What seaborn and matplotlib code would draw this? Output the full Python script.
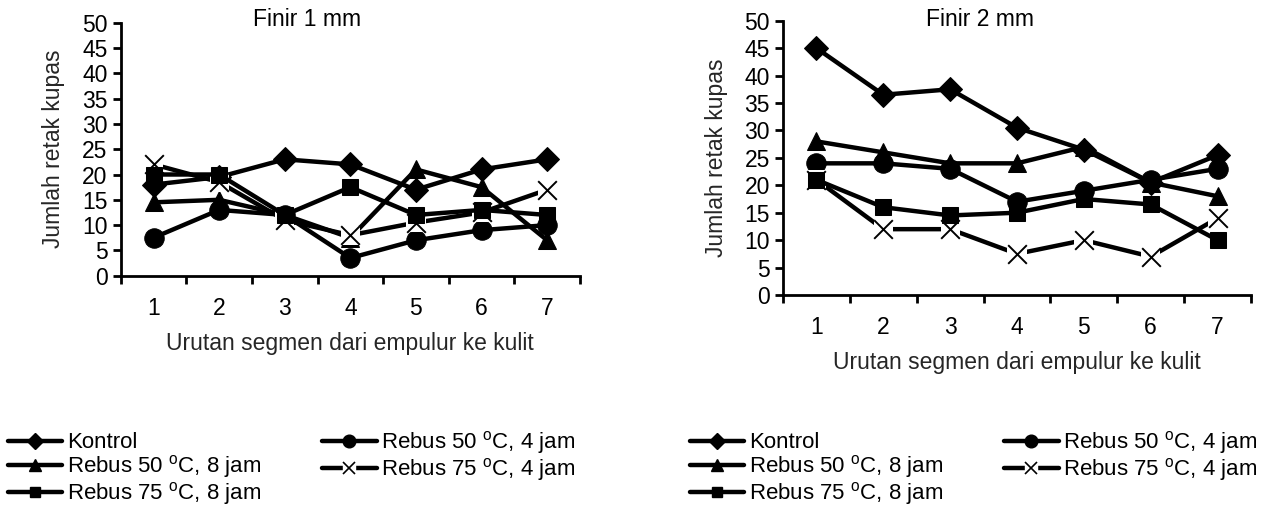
import numpy as np
import matplotlib
matplotlib.use("Agg")
import matplotlib.pyplot as plt
import seaborn as sns
from matplotlib.lines import Line2D

# ---------------- data ----------------
segments = [1, 2, 3, 4, 5, 6, 7]
series_names = [
    "Kontrol",
    "Rebus 50 $^{\\mathrm{o}}$C, 4 jam",
    "Rebus 50 $^{\\mathrm{o}}$C, 8 jam",
    "Rebus 75 $^{\\mathrm{o}}$C, 4 jam",
    "Rebus 75 $^{\\mathrm{o}}$C, 8 jam",
]
panel_titles = ["Finir 1 mm", "Finir 2 mm"]
x_label = "Urutan segmen dari empulur ke kulit"
y_label = "Jumlah retak kupas"

# Finir 1 mm
f1_kontrol = [18, 19.5, 23, 22, 17, 21, 23]
f1_r50_4 = [7.5, 13, 12, 3.5, 7, 9, 10]
f1_r50_8 = [14.5, 15, 12, 7.5, 21, 17.5, 7]
f1_r75_4 = [22, 18.5, 11, 8, 10.5, 12.5, 17]
f1_r75_8 = [20, 20, 12, 17.5, 12, 13, 12]

# Finir 2 mm
f2_kontrol = [45, 36.5, 37.5, 30.5, 26.5, 20.5, 25.5]
f2_r50_4 = [24, 24, 23, 17, 19, 21, 23]
f2_r50_8 = [28, 26, 24, 24, 27, 20.5, 18]
f2_r75_4 = [21, 12, 12, 7.5, 10, 7, 14]
f2_r75_8 = [21, 16, 14.5, 15, 17.5, 16.5, 10]

panels = [
    [f1_kontrol, f1_r50_4, f1_r50_8, f1_r75_4, f1_r75_8],
    [f2_kontrol, f2_r50_4, f2_r50_8, f2_r75_4, f2_r75_8],
]

# ---------------- style ----------------
sns.set_style("ticks")
plt.rcParams["font.family"] = ["Liberation Sans", "DejaVu Sans"]
plt.rcParams["mathtext.fontset"] = "custom"
plt.rcParams["mathtext.rm"] = "Liberation Sans"
plt.rcParams["mathtext.it"] = "Liberation Sans:italic"
plt.rcParams["axes.edgecolor"] = "black"
plt.rcParams["text.color"] = "black"
plt.rcParams["xtick.color"] = "black"
plt.rcParams["ytick.color"] = "black"

FS = 16.5
LEG_FS = 16
LW = 3.2
markers = ["D", "o", "^", "x", "s"]
msizes = [12, 14, 13, 13, 12]

W, H = 1283, 509
fig = plt.figure(figsize=(W / 100, H / 100), dpi=100)

# axes rectangles in pixels: left, right, top(y=50), bottom(y=0)
rects = [(120.7, 580, 22.7, 275.7), (783, 1251, 20.7, 295)]
title_x = [307, 980]


def draw_panel(ax, data, title, tx):
    for i, vals in enumerate(data):
        z = 3 + i * 3
        mk = markers[i]
        if mk == "x":
            sns.lineplot(x=segments, y=vals, ax=ax, color="black", lw=LW,
                         zorder=z, legend=False)
            sns.scatterplot(x=segments, y=vals, ax=ax, marker="s", s=190,
                            color="white", edgecolor="none", zorder=z + 1,
                            legend=False)
            sns.scatterplot(x=segments, y=vals, ax=ax, marker="x", s=180,
                            color="black", linewidth=1.4, zorder=z + 2,
                            legend=False)
        else:
            sns.lineplot(x=segments, y=vals, ax=ax, color="black", lw=LW,
                         marker=mk, markersize=msizes[i],
                         markerfacecolor="black", markeredgecolor="black",
                         zorder=z, legend=False)

    ax.set_xlim(0.5, 7.5)
    ax.set_ylim(0, 50)
    ax.set_yticks(np.arange(0, 51, 5))
    ax.set_xticks(np.arange(0.5, 7.6, 1))
    ax.set_xticklabels([])
    ax.set_xticks(segments, minor=True)
    ax.set_xticklabels([str(s) for s in segments], minor=True)
    ax.tick_params(axis="both", which="major", length=5.5, width=2,
                   direction="out", labelsize=FS)
    ax.tick_params(axis="y", which="major", pad=4)
    ax.tick_params(axis="x", which="minor", length=0, pad=15, labelsize=FS)
    for s in ["top", "right"]:
        ax.spines[s].set_visible(False)
    for s in ["left", "bottom"]:
        ax.spines[s].set_linewidth(2)
    ax.set_xlabel(x_label, fontsize=FS, labelpad=9)
    ax.set_ylabel(y_label, fontsize=FS, labelpad=12)
    fig.text(tx / W, 1 - 20 / H, title, fontsize=FS, ha="center",
             va="center")


for k in range(2):
    l, r, t, b = rects[k]
    ax = fig.add_axes([l / W, 1 - b / H, (r - l) / W, (b - t) / H])
    draw_panel(ax, panels[k], panel_titles[k], title_x[k])


# ---------------- legends ----------------
def make_handles():
    hs = []
    for i in range(5):
        if markers[i] == "x":
            h = (Line2D([], [], color="black", lw=LW),
                 Line2D([], [], ls="", marker="s", ms=9, color="white",
                        markeredgecolor="white"),
                 Line2D([], [], ls="", marker="x", ms=8, color="black",
                        markeredgewidth=1.2))
        else:
            h = Line2D([], [], color="black", lw=LW, marker=markers[i],
                       ms=msizes[i] * 0.65, markerfacecolor="black",
                       markeredgecolor="black")
        hs.append(h)
    return hs


order = [0, 2, 4, 1, 3]
legend_pos = [(8, 429), (690, 429)]
for k in range(2):
    hs = make_handles()
    leg = fig.legend([hs[i] for i in order], [series_names[i] for i in order],
                     loc="upper left",
                     bbox_to_anchor=(legend_pos[k][0] / W, 1 - legend_pos[k][1] / H),
                     ncol=2, frameon=False, fontsize=LEG_FS, borderpad=0,
                     borderaxespad=0, handlelength=2.45, handletextpad=0.2,
                     columnspacing=2.75, labelspacing=0.0)

fig.savefig("out.png", dpi=100)
